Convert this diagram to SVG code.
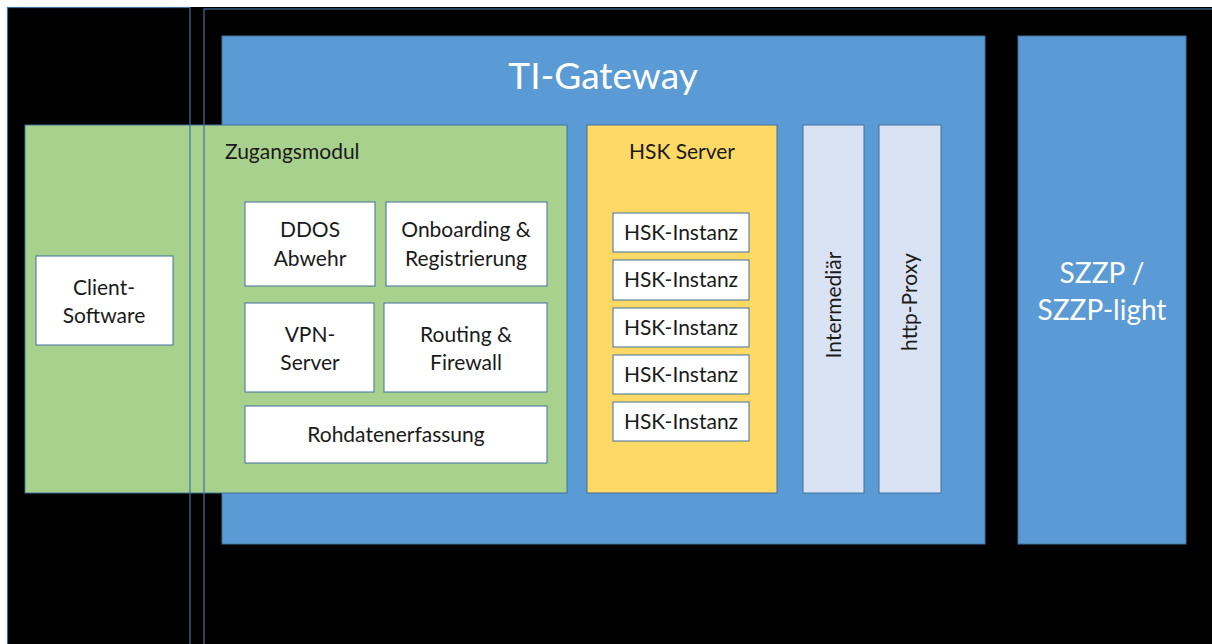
<svg xmlns="http://www.w3.org/2000/svg" width="1212" height="644" viewBox="0 0 1212 644">
<style>
text{font-family:Lato,"Open Sans","Liberation Sans",sans-serif;fill:#1a1a1a;font-size:21px;text-anchor:middle}
.w{fill:#fff;stroke:#41719C;stroke-width:1}
.big{fill:#5B9BD5;stroke:#41719C;stroke-width:1}
.lt{fill:#DAE3F3;stroke:#41719C;stroke-width:1}
.ln{fill:none;stroke:#41719C;stroke-width:1.2}
text.wt{fill:#fff}
</style>
<rect x="0" y="0" width="1212" height="644" fill="#fff"/>
<rect x="7" y="7" width="1205" height="637" fill="#000"/>
<g id="ti-gateway">
<rect class="big" x="222" y="36" width="763" height="508"/>
<text class="wt" x="603" y="89" style="font-size:37px">TI-Gateway</text>
</g>
<g id="szzp">
<rect class="big" x="1018" y="36" width="168" height="508"/>
<text class="wt" x="1102" y="283" style="font-size:28px">SZZP /</text>
<text class="wt" x="1102" y="320" style="font-size:28px">SZZP-light</text>
</g>
<g id="zugangsmodul">
<rect x="25" y="125" width="542" height="368" fill="#A9D18E" stroke="#41719C"/>
<text x="225" y="159" style="text-anchor:start">Zugangsmodul</text>
</g>
<g id="client-software">
<rect class="w" x="36" y="256" width="137" height="89"/>
<text x="104" y="295">Client-</text>
<text x="104" y="323">Software</text>
</g>
<g id="ddos">
<rect class="w" x="245" y="202" width="130" height="84"/>
<text x="310" y="237">DDOS</text>
<text x="310" y="266">Abwehr</text>
</g>
<g id="onboarding">
<rect class="w" x="386" y="202" width="161" height="84"/>
<text x="466" y="237">Onboarding &amp;</text>
<text x="466" y="266">Registrierung</text>
</g>
<g id="vpn">
<rect class="w" x="245" y="303" width="129" height="89"/>
<text x="310" y="342">VPN-</text>
<text x="310" y="370">Server</text>
</g>
<g id="routing">
<rect class="w" x="384" y="303" width="163" height="89"/>
<text x="466" y="342">Routing &amp;</text>
<text x="466" y="370">Firewall</text>
</g>
<g id="rohdaten">
<rect class="w" x="245" y="406" width="302" height="57"/>
<text x="396" y="442">Rohdatenerfassung</text>
</g>
<g id="hsk-server">
<rect x="587" y="125" width="190" height="368" fill="#FFD966" stroke="#41719C"/>
<text x="682" y="159">HSK Server</text>
</g>
<g id="hsk1"><rect class="w" x="613" y="213" width="136" height="39"/><text x="681" y="240">HSK-Instanz</text></g>
<g id="hsk2"><rect class="w" x="613" y="260" width="136" height="40"/><text x="681" y="287">HSK-Instanz</text></g>
<g id="hsk3"><rect class="w" x="613" y="308" width="136" height="39"/><text x="681" y="335">HSK-Instanz</text></g>
<g id="hsk4"><rect class="w" x="613" y="355" width="136" height="39"/><text x="681" y="382">HSK-Instanz</text></g>
<g id="hsk5"><rect class="w" x="613" y="402" width="136" height="39"/><text x="681" y="429">HSK-Instanz</text></g>
<g id="intermediaer">
<rect class="lt" x="803" y="125" width="61" height="368"/>
<text transform="translate(841,305) rotate(-90)">Intermediär</text>
</g>
<g id="http-proxy">
<rect class="lt" x="879" y="125" width="62" height="368"/>
<text transform="translate(917,302) rotate(-90)">http-Proxy</text>
</g>
<g id="connectors">
<rect class="ln" x="7.5" y="7.5" width="182.5" height="645"/>
<rect class="ln" x="204" y="9" width="1020" height="645"/>
</g>
</svg>
